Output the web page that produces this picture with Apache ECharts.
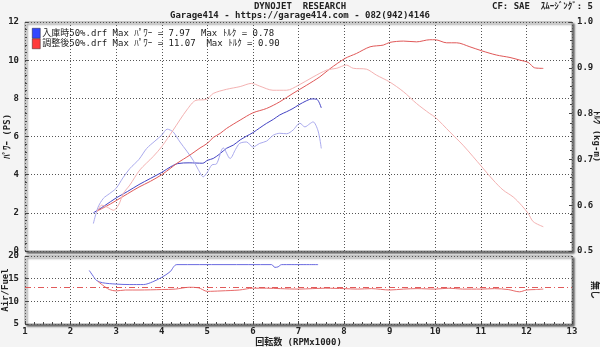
<!DOCTYPE html>
<html>
<head>
<meta charset="utf-8">
<script src="https://cdn.jsdelivr.net/npm/echarts@6/dist/echarts.min.js"></script>
<style>
  html, body { margin: 0; padding: 0; background: #f4f4f4; }
  #dyno { width: 600px; height: 347px; }
</style>
</head>
<body>
<div id="dyno"></div>
<script>
// run names and the max values printed in the legend
const runNames = ["入庫時50%.drf", "調整後50%.drf"];
const maxPower = ["7.97", "11.07"];
const maxTorque = ["0.78", "0.90"];

// [rpm x1000, PS]
const power1 = [[2.50,2.00],[2.75,2.38],[3.0,2.78],[3.25,3.12],[3.5,3.48],[3.75,3.8],[4.0,4.12],[4.2,4.42],
  [4.35,4.58],[4.6,4.62],[4.9,4.6],[5.0,4.75],[5.13,4.85],[5.28,5.1],[5.42,5.38],[5.57,5.55],[5.72,5.82],
  [5.86,6.02],[6.0,6.2],[6.15,6.45],[6.3,6.69],[6.45,6.9],[6.59,7.13],[6.74,7.3],[6.88,7.47],[7.0,7.65],
  [7.18,7.88],[7.3,7.97],[7.4,7.95],[7.45,7.8],[7.5,7.5]];
const power2 = [[2.58,2.1],[2.75,2.3],[3.0,2.64],[3.25,3.0],[3.5,3.35],[3.75,3.65],[4.0,4.0],[4.2,4.35],
  [4.33,4.59],[4.62,5.03],[4.84,5.4],[5.0,5.64],[5.13,5.95],[5.28,6.16],[5.42,6.42],[5.72,6.86],[6.0,7.24],
  [6.3,7.47],[6.59,7.82],[6.88,8.26],[7.18,8.69],[7.47,9.13],[7.69,9.55],[8.02,10.09],[8.27,10.35],
  [8.57,10.70],[8.86,10.79],[9.0,10.93],[9.3,11.0],[9.59,10.96],[9.88,11.07],[10.0,11.07],[10.25,10.91],
  [10.47,10.91],[10.76,10.70],[11.02,10.49],[11.34,10.27],[11.64,10.14],[11.86,10.0],[12.04,9.88],
  [12.18,9.60],[12.37,9.57]];

// [rpm x1000, kg-m]
const torque1 = [[2.50,0.560],[2.6,0.595],[2.72,0.615],[2.85,0.625],[3.0,0.637],[3.15,0.660],[3.3,0.680],
  [3.5,0.700],[3.67,0.724],[3.85,0.740],[4.0,0.753],[4.12,0.766],[4.25,0.760],[4.4,0.738],[4.55,0.718],
  [4.69,0.698],[4.8,0.678],[4.91,0.662],[5.0,0.672],[5.1,0.688],[5.2,0.690],[5.35,0.725],[5.5,0.702],
  [5.62,0.722],[5.71,0.735],[5.86,0.738],[6.0,0.727],[6.15,0.735],[6.3,0.740],[6.45,0.753],[6.59,0.757],
  [6.74,0.756],[6.88,0.764],[7.03,0.779],[7.14,0.771],[7.25,0.778],[7.32,0.782],[7.43,0.762],[7.5,0.724]];
const torque2 = [[2.58,0.585],[2.68,0.600],[2.8,0.596],[2.94,0.589],[3.05,0.600],[3.16,0.626],[3.3,0.644],
  [3.52,0.677],[3.81,0.706],[4.0,0.728],[4.25,0.764],[4.55,0.808],[4.75,0.829],[4.98,0.831],[5.13,0.844],
  [5.42,0.853],[5.72,0.859],[5.97,0.866],[6.15,0.860],[6.44,0.851],[6.74,0.851],[7.0,0.862],[7.32,0.880],
  [7.62,0.895],[7.84,0.899],[8.05,0.906],[8.20,0.899],[8.49,0.897],[8.71,0.884],[9.0,0.869],[9.30,0.848],
  [9.59,0.822],[9.88,0.800],[10.0,0.792],[10.32,0.760],[10.61,0.731],[10.83,0.706],[11.02,0.684],
  [11.27,0.655],[11.49,0.633],[11.71,0.618],[11.89,0.600],[12.04,0.582],[12.15,0.564],[12.37,0.553]];

// [rpm x1000, air/fuel]
const afr1 = [[2.41,16.8],[2.5,15.5],[2.57,14.6],[2.7,14.1],[3.0,13.8],[3.3,13.7],[3.6,13.7],[3.8,14.3],
  [4.0,15.3],[4.18,16.5],[4.33,18.1],[6.41,18.1],[6.48,17.5],[6.55,17.6],[6.63,18.1],[7.43,18.1]];
const afr2 = [[2.6,14.4],[2.7,13.6],[2.85,12.6],[3.0,12.3],[3.2,12.5],[3.5,12.5],[4.0,12.6],[4.3,12.7],
  [4.6,13.1],[4.8,13.0],[5.0,12.2],[5.3,12.3],[5.7,12.5],[6.0,12.9],[6.3,12.9],[6.6,12.8],[7.0,12.7],
  [7.3,12.8],[7.6,12.9],[8.0,12.8],[8.3,12.7],[8.6,12.8],[9.0,12.5],[9.3,12.7],[9.6,12.8],[10.0,12.7],
  [10.3,12.9],[10.6,12.7],[11.0,12.7],[11.3,12.8],[11.6,12.6],[11.85,12.1],[12.0,12.5],[12.2,12.6],[12.37,12.7]];
const afrTarget = 13.2;

const font = "'DejaVu Sans Mono', 'Noto Sans CJK JP', monospace";
const txt = { fontFamily: font, fontSize: 9, fontWeight: "bold", color: "#222" };
const dotted = { show: true, lineStyle: { color: "#555", type: [1, 2], width: 1 } };
const frame = {
  show: true, outerBoundsMode: "none", containLabel: false,
  backgroundColor: "#fff", borderColor: "#999", borderWidth: 1,
  shadowColor: "rgba(0,0,0,0.6)", shadowBlur: 2, shadowOffsetX: 2, shadowOffsetY: 2
};

const chart = echarts.init(document.getElementById("dyno"));
chart.setOption({
  animation: false,
  backgroundColor: "#f4f4f4",
  title: [
    {
      text: "DYNOJET  RESEARCH",
      subtext: "Garage414 - https://garage414.com - 082(942)4146",
      left: "center", top: -3, itemGap: 0,
      textStyle: txt, subtextStyle: txt
    },
    { text: "CF: SAE  ｽﾑｰｼﾞﾝｸﾞ: 5", right: 2, top: -3, textStyle: txt }
  ],
  legend: {
    orient: "vertical", left: 27, top: 23, itemGap: 0,
    itemWidth: 8, itemHeight: 10, icon: "rect",
    textStyle: { fontFamily: font, fontSize: 9, color: "#222", padding: [0, 0, 0, -3] },
    data: [
      { name: runNames[0], itemStyle: { color: "#3347ff", borderColor: "#223", borderWidth: 0.5 } },
      { name: runNames[1], itemStyle: { color: "#ff3a3a", borderColor: "#322", borderWidth: 0.5 } }
    ],
    formatter: function (n) {
      const i = runNames.indexOf(n);
      return n + " Max ﾊﾟﾜｰ = " + maxPower[i] + "  Max ﾄﾙｸ = " + maxTorque[i];
    },
    selectedMode: false
  },
  grid: [
    Object.assign({ left: 25, right: 28, top: 22, height: 229 }, frame),
    Object.assign({ left: 25, right: 28, top: 256, height: 68 }, frame)
  ],
  xAxis: [
    {
      gridIndex: 0, type: "value", min: 1, max: 13, interval: 1,
      axisLine: { show: false }, axisTick: { show: false }, axisLabel: { show: false },
      splitLine: dotted
    },
    {
      gridIndex: 1, type: "value", min: 1, max: 13, interval: 1,
      name: "回転数 (RPMx1000)", nameLocation: "middle", nameGap: 14,
      nameTextStyle: txt, nameMoveOverlap: false,
      axisLine: { show: false },
      axisTick: { show: true, inside: true, length: 3, lineStyle: { color: "#444" } },
      minorTick: { show: true, splitNumber: 5, length: 2, lineStyle: { color: "#444" } },
      axisLabel: Object.assign({ margin: 3 }, txt),
      splitLine: dotted
    }
  ],
  yAxis: [
    {
      gridIndex: 0, type: "value", min: 0, max: 12, interval: 2,
      name: "ﾊﾟﾜｰ (PS)", nameLocation: "middle", nameRotate: 90, nameGap: 13,
      nameTextStyle: txt, nameMoveOverlap: false,
      axisLine: { show: false },
      axisTick: { show: true, inside: true, length: 3, lineStyle: { color: "#444" } },
      minorTick: { show: true, splitNumber: 5, length: 2, lineStyle: { color: "#444" } },
      axisLabel: Object.assign({ margin: 6 }, txt),
      splitLine: dotted
    },
    {
      gridIndex: 0, type: "value", min: 0.5, max: 1.0, interval: 0.1, position: "right",
      name: "ﾄﾙｸ (kg-m)", nameLocation: "middle", nameRotate: -90, nameGap: 20,
      nameTextStyle: txt, nameMoveOverlap: false,
      axisLine: { show: false },
      axisTick: { show: true, inside: true, length: 3, lineStyle: { color: "#444" } },
      minorTick: { show: true, splitNumber: 5, length: 2, lineStyle: { color: "#444" } },
      axisLabel: Object.assign({ margin: 5, formatter: v => v.toFixed(1) }, txt),
      splitLine: { show: false }
    },
    {
      gridIndex: 1, type: "value", min: 5, max: 20, interval: 5,
      name: "Air/Fuel", nameLocation: "middle", nameRotate: 90, nameGap: 15,
      nameTextStyle: txt, nameMoveOverlap: false,
      axisLine: { show: false },
      axisTick: { show: true, inside: true, length: 3, lineStyle: { color: "#444" } },
      axisLabel: Object.assign({ margin: 6 }, txt),
      splitLine: dotted
    },
    {
      gridIndex: 1, type: "value", min: 5, max: 20, interval: 5, position: "right",
      name: "無し", nameLocation: "middle", nameRotate: -90, nameGap: 18,
      nameTextStyle: txt, nameMoveOverlap: false,
      axisLine: { show: false }, axisTick: { show: false }, axisLabel: { show: false },
      splitLine: { show: false }
    }
  ],
  series: [
    {
      name: runNames[0], type: "line", data: power1, xAxisIndex: 0, yAxisIndex: 0,
      showSymbol: false, smooth: 0.3, lineStyle: { width: 1, color: "#4343c4" }, itemStyle: { color: "#3347ff" }
    },
    {
      name: runNames[0], type: "line", data: torque1, xAxisIndex: 0, yAxisIndex: 1,
      showSymbol: false, smooth: 0.3, lineStyle: { width: 1, color: "#aaaaee" }, itemStyle: { color: "#3347ff" }
    },
    {
      name: runNames[1], type: "line", data: power2, xAxisIndex: 0, yAxisIndex: 0,
      showSymbol: false, smooth: 0.3, lineStyle: { width: 1, color: "#e05858" }, itemStyle: { color: "#ff3a3a" }
    },
    {
      name: runNames[1], type: "line", data: torque2, xAxisIndex: 0, yAxisIndex: 1,
      showSymbol: false, smooth: 0.3, lineStyle: { width: 1, color: "#f4b2b2" }, itemStyle: { color: "#ff3a3a" }
    },
    {
      name: runNames[0], type: "line", data: afr1, xAxisIndex: 1, yAxisIndex: 2,
      showSymbol: false, smooth: 0.3, lineStyle: { width: 1, color: "#6a6ae0" }, itemStyle: { color: "#3347ff" }
    },
    {
      name: runNames[1], type: "line", data: afr2, xAxisIndex: 1, yAxisIndex: 2,
      showSymbol: false, smooth: 0.3, lineStyle: { width: 1, color: "#e86a6a" }, itemStyle: { color: "#ff3a3a" },
      markLine: {
        silent: true, symbol: "none", label: { show: false },
        lineStyle: { color: "#e05a5a", type: [6, 3, 1, 3], width: 1 },
        data: [{ yAxis: afrTarget }]
      }
    }
  ]
});
</script>
</body>
</html>
